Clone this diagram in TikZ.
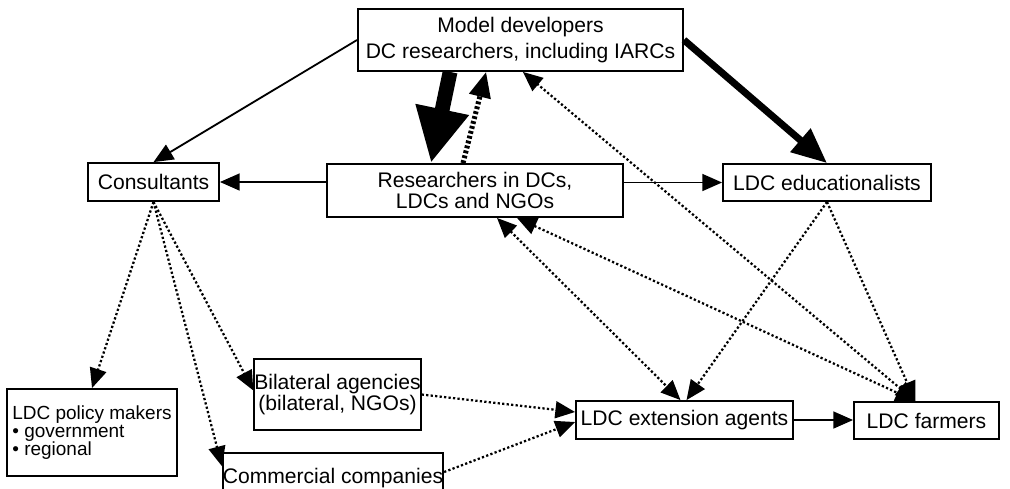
\documentclass[tikz,border=0pt]{standalone}
\usepackage{fontspec}
\setmainfont{Liberation Sans}
\usetikzlibrary{arrows.meta}

\begin{document}
\begin{tikzpicture}[x=0.025cm,y=-0.025cm,
	>={Triangle[length=14pt,width=12pt]},
	box/.style={draw,line width=1.3pt,inner sep=0pt,align=center,font=\fontsize{15}{16}\selectfont},
	ln/.style={line width=1.3pt},
	dots/.style={line width=1.6pt,dash pattern=on 1.6pt off 1.6pt}]
	\useasboundingbox (0,0) rectangle (1010,488);
	% boxes
	\node[box,minimum width=8.125cm,minimum height=1.55cm,font=\fontsize{15}{18.5}\selectfont] (dev) at (520.5,40) {Model developers\\DC researchers, including IARCs};
	\node[box,minimum width=3.275cm,minimum height=0.95cm] (cons) at (153.5,182) {Consultants};
	\node[box,minimum width=7.4cm,minimum height=1.325cm,font=\fontsize{15}{15.5}\selectfont] (res) at (475,190.5) {Researchers in DCs,\\LDCs and NGOs};
	\node[box,minimum width=5.2cm,minimum height=0.925cm] (edu) at (827,182.5) {LDC educationalists};
	\node[box,minimum width=4.25cm,minimum height=2.175cm,align=left,font=\fontsize{13.5}{12.6}\selectfont] (pol) at (92,432.5) {LDC policy makers\\\textbullet{} government\\\textbullet{} regional};
	\node[box,minimum width=3.975cm,minimum height=1.775cm,font=\fontsize{15}{14.5}\selectfont] (bil) at (337.5,394.5) {Bilateral agencies\\(bilateral, NGOs)};
	\node[box,minimum width=5cm,minimum height=1.25cm] (com) at (333,478) {Commercial companies};
	\node[box,minimum width=5.425cm,minimum height=0.95cm] (ext) at (684.5,420) {LDC extension agents};
	\node[box,minimum width=3.625cm,minimum height=0.925cm] (farm) at (926.5,420.5) {LDC farmers};
	% solid links
	\draw[ln,->] (dev.west) -- (cons.north);
	\draw[ln,->] (cons.east -| res.west) -- (cons.east);
	\draw[ln,->] (edu.west -| res.east) -- (edu.west);
	\draw[ln,->] (ext.east) -- (farm.west |- ext.east);
	% heavy links
	\draw[line width=10.5pt,-{Triangle[length=39pt,width=36pt]}] ([xshift=-1.76cm]dev.south) -- ([xshift=-1.1cm]res.north);
	\draw[line width=3.6pt,dash pattern=on 2pt off 1.6pt,-{Triangle[length=18pt,width=15pt]}] ([xshift=-0.3cm]res.north) -- ([xshift=-0.86cm]dev.south);
	\draw[line width=5pt,-{Triangle[length=25pt,width=21pt]}] (dev.east) -- (edu.north);
	% dotted links
	\draw[dots,<->] ([xshift=-0.28cm]farm.north) -- ([xshift=0.06cm]dev.south);
	\draw[dots,<->] ([xshift=0.55cm]res.south) -- ([xshift=-0.1cm]ext.north);
	\draw[dots,<->] ([xshift=1.05cm]res.south) -- ([xshift=-0.28cm]farm.north);
	\draw[dots,->] (edu.south) -- ([xshift=0.05cm]ext.north);
	\draw[dots,->] (edu.south) -- ([xshift=-0.28cm]farm.north);
	\draw[dots,->] (cons.south) -- (pol.north);
	\draw[dots,->] (cons.south) -- ([yshift=0.1cm]bil.west);
	\draw[dots,->] (cons.south) -- ([yshift=-0.35cm]com.north west);
	\draw[dots,->] (bil.east) -- ([yshift=0.2cm]ext.west);
	\draw[dots,->] ([yshift=0.15cm]com.east) -- ([yshift=-0.05cm]ext.west);
\end{tikzpicture}
\end{document}
